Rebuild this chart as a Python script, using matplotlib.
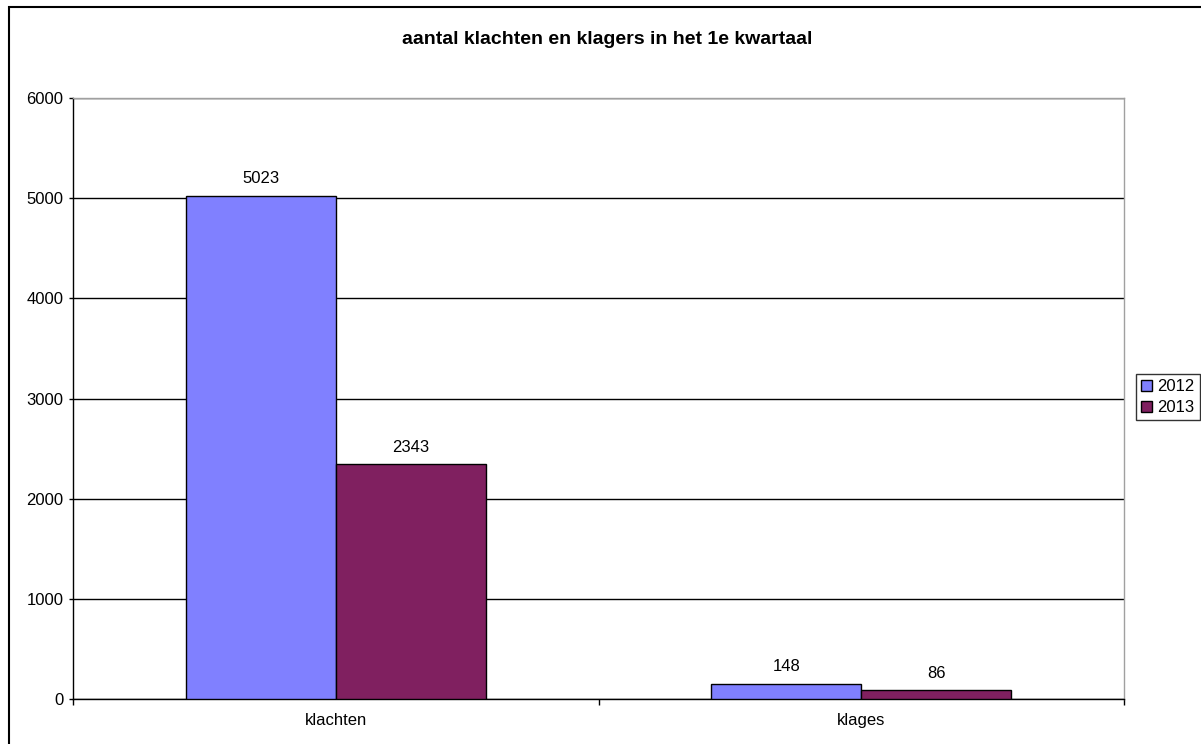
import matplotlib
matplotlib.use("Agg")
import matplotlib.pyplot as plt
from matplotlib.patches import Rectangle, Patch
import numpy as np

categories = ["klachten", "klages"]
series_names = ["2012", "2013"]
values_2012 = [5023, 148]
values_2013 = [2343, 86]
yticks = [0, 1000, 2000, 3000, 4000, 5000, 6000]
colors = ["#8080FF", "#802060"]

W, H = 1201, 744
fig = plt.figure(figsize=(W / 100, H / 100), dpi=100)
fig.patch.set_facecolor("white")
plt.rcParams['font.family'] = ['Liberation Sans', 'DejaVu Sans']

# outer border
fig.add_artist(Rectangle((9 / W, -0.05), 1.2, 1 - 6.5 / H + 0.05, transform=fig.transFigure,
                         fill=False, edgecolor="black", linewidth=1.5))

ax = fig.add_axes([73 / W, 1 - 699 / H, (1124 - 73) / W, (699 - 98) / H])
x = np.arange(len(categories)) + 0.5
bw = 150 / 525.5
b1 = ax.bar(x - bw / 2, values_2012, bw, color=colors[0], edgecolor="black", linewidth=1, label=series_names[0], zorder=3)
b2 = ax.bar(x + bw / 2, values_2013, bw, color=colors[1], edgecolor="black", linewidth=1, label=series_names[1], zorder=3)
for bars, vals in ((b1, values_2012), (b2, values_2013)):
    for r, v in zip(bars, vals):
        ax.annotate(str(v), (r.get_x() + r.get_width() / 2, v), xytext=(0, 7), textcoords="offset points",
                    ha="center", va="bottom", fontsize=12)

ax.set_xlim(0, len(categories))
ax.set_ylim(0, 6000)
ax.set_yticks(yticks)
ax.set_yticklabels([str(t) for t in yticks], fontsize=12)
ax.yaxis.grid(True, color="black", linewidth=1, zorder=0)
ax.set_axisbelow(True)
ax.set_xticks([0, 1, 2])
ax.set_xticklabels([])
ax.set_xticks(x, minor=True)
ax.set_xticklabels(categories, minor=True, fontsize=12)
ax.tick_params(axis="x", which="minor", length=0, pad=10)
ax.tick_params(axis="x", which="major", length=4, direction="out", width=1)
ax.tick_params(axis="y", length=3, direction="out", width=1, pad=4)
ax.spines["top"].set_color("#a0a0a0")
ax.spines["right"].set_color("#a0a0a0")
ax.spines["left"].set_color("black")
ax.spines["bottom"].set_color("black")
for s in ax.spines.values():
    s.set_linewidth(1)

fig.text(607 / W, 1 - 40 / H, "aantal klachten en klagers in het 1e kwartaal", ha="center", va="center",
         fontsize=14, fontweight="bold")

handles = [Patch(facecolor=colors[0], edgecolor="black", label=series_names[0]),
           Patch(facecolor=colors[1], edgecolor="black", label=series_names[1])]
leg = fig.legend(handles=handles, loc="center", bbox_to_anchor=(1168 / W, 1 - 397 / H), fontsize=12,
                 frameon=True, fancybox=False, handlelength=0.65, handleheight=0.65, handletextpad=0.3,
                 borderpad=0.3, labelspacing=0.35, borderaxespad=0)
leg.get_frame().set_edgecolor("black")
leg.get_frame().set_linewidth(1)

fig.savefig("out.png", dpi=100)
